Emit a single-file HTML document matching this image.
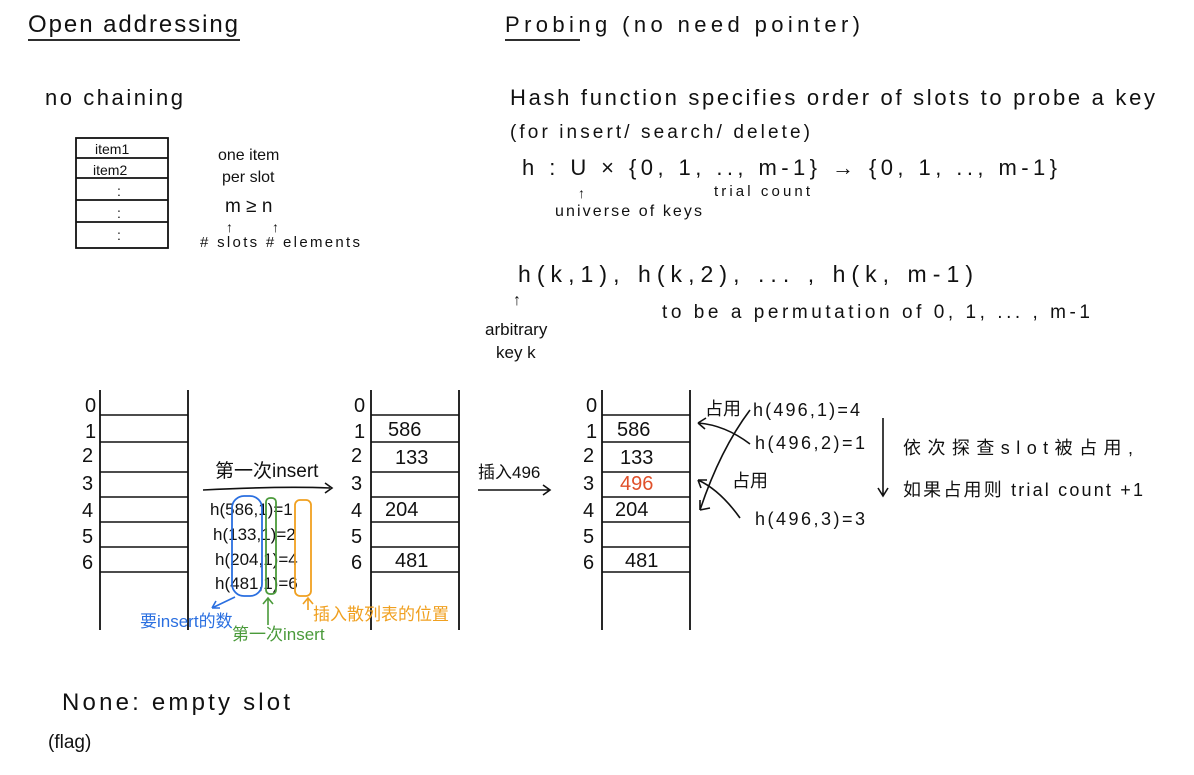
<!DOCTYPE html>
<html><head><meta charset="utf-8"><style>
body{margin:0;background:#fff;width:1194px;height:770px;overflow:hidden}
svg text{font-family:"Liberation Sans","Noto Sans CJK SC",sans-serif;fill:#111}
</style></head><body>
<svg width="1194" height="770" viewBox="0 0 1194 770" xmlns="http://www.w3.org/2000/svg">
<g stroke="#111" stroke-width="1.8" fill="none">
<line x1="28" y1="40" x2="240" y2="40"/>
<line x1="505" y1="40" x2="580" y2="40"/>
<rect x="76" y="138" width="92" height="110"/>
<line x1="76" y1="158" x2="168" y2="158"/><line x1="76" y1="178" x2="168" y2="178"/>
<line x1="76" y1="200" x2="168" y2="200"/><line x1="76" y1="222" x2="168" y2="222"/>
<path d="M100 390V630M188 390V630"/>
<path d="M371 390V630M459 390V630"/>
<path d="M602 390V630M690 390V630"/>
</g>
<g stroke="#111" stroke-width="1.6">
<line x1="100" y1="415" x2="188" y2="415"/><line x1="100" y1="442" x2="188" y2="442"/><line x1="100" y1="472" x2="188" y2="472"/><line x1="100" y1="497" x2="188" y2="497"/><line x1="100" y1="522" x2="188" y2="522"/><line x1="100" y1="547" x2="188" y2="547"/><line x1="100" y1="572" x2="188" y2="572"/>
<line x1="371" y1="415" x2="459" y2="415"/><line x1="371" y1="442" x2="459" y2="442"/><line x1="371" y1="472" x2="459" y2="472"/><line x1="371" y1="497" x2="459" y2="497"/><line x1="371" y1="522" x2="459" y2="522"/><line x1="371" y1="547" x2="459" y2="547"/><line x1="371" y1="572" x2="459" y2="572"/>
<line x1="602" y1="415" x2="690" y2="415"/><line x1="602" y1="442" x2="690" y2="442"/><line x1="602" y1="472" x2="690" y2="472"/><line x1="602" y1="497" x2="690" y2="497"/><line x1="602" y1="522" x2="690" y2="522"/><line x1="602" y1="547" x2="690" y2="547"/><line x1="602" y1="572" x2="690" y2="572"/>
</g>
<g font-size="20">
<text x="85" y="412">0</text><text x="85" y="438">1</text><text x="82" y="462">2</text><text x="82" y="490">3</text><text x="82" y="517">4</text><text x="82" y="543">5</text><text x="82" y="569">6</text>
<text x="354" y="412">0</text><text x="354" y="438">1</text><text x="351" y="462">2</text><text x="351" y="490">3</text><text x="351" y="517">4</text><text x="351" y="543">5</text><text x="351" y="569">6</text>
<text x="586" y="412">0</text><text x="586" y="438">1</text><text x="583" y="462">2</text><text x="583" y="490">3</text><text x="583" y="517">4</text><text x="583" y="543">5</text><text x="583" y="569">6</text>
<text x="388" y="436">586</text><text x="395" y="464">133</text><text x="385" y="516">204</text><text x="395" y="567">481</text>
<text x="617" y="436">586</text><text x="620" y="464">133</text><text x="620" y="490" style="fill:#e0502a">496</text><text x="615" y="516">204</text><text x="625" y="567">481</text>
</g>
<text x="28" y="32" font-size="24" textLength="210">Open addressing</text>
<text x="505" y="32" font-size="22" textLength="355">Probing  (no need pointer)</text>
<text x="45" y="105" font-size="22" textLength="138">no chaining</text>
<g font-size="14"><text x="95" y="154">item1</text><text x="93" y="175">item2</text><text x="117" y="196">:</text><text x="117" y="218">:</text><text x="117" y="240">:</text></g>
<text x="218" y="160" font-size="16">one item</text>
<text x="222" y="182" font-size="16">per slot</text>
<text x="225" y="212" font-size="19">m ≥ n</text>
<text x="226" y="232" font-size="14">↑</text><text x="272" y="232" font-size="14">↑</text>
<text x="200" y="247" font-size="15" textLength="160"># slots  # elements</text>
<text x="510" y="105" font-size="22" textLength="645">Hash function specifies order of slots to probe a key</text>
<text x="510" y="138" font-size="19" textLength="300">(for insert/ search/ delete)</text>
<text x="522" y="175" font-size="22" textLength="535">h : U × {0, 1, .., m-1} → {0, 1, .., m-1}</text>
<text x="578" y="198" font-size="14">↑</text>
<text x="555" y="216" font-size="16" textLength="147">universe of keys</text>
<text x="714" y="196" font-size="15" textLength="96">trial count</text>
<text x="518" y="282" font-size="23" textLength="455">h(k,1), h(k,2), ... , h(k, m-1)</text>
<text x="513" y="305" font-size="16">↑</text>
<text x="485" y="335" font-size="17">arbitrary</text>
<text x="496" y="358" font-size="17">key k</text>
<text x="662" y="318" font-size="19" textLength="428">to be a permutation of 0, 1, ... , m-1</text>
<text x="215" y="477" font-size="19">第一次insert</text>
<path d="M203 490Q280 486 330 488" stroke="#111" stroke-width="1.6" fill="none"/><path d="M325 483l7 5-7 5" stroke="#111" stroke-width="1.6" fill="none"/>
<g font-size="17"><text x="210" y="515">h(586,1)=1</text><text x="213" y="540">h(133,1)=2</text><text x="215" y="565">h(204,1)=4</text><text x="215" y="589">h(481,1)=6</text></g>
<rect x="232" y="496" width="30" height="100" rx="12" stroke="#2a6fe0" stroke-width="1.8" fill="none"/>
<rect x="266" y="498" width="10" height="96" rx="4" stroke="#4a9a3a" stroke-width="1.8" fill="none"/>
<rect x="295" y="500" width="16" height="96" rx="5" stroke="#f0a020" stroke-width="1.8" fill="none"/>
<path d="M235 597L212 608M212 608l8 0M212 608l4-7" stroke="#2a6fe0" stroke-width="1.6" fill="none"/>
<path d="M268 625V598M263 604l5-6 5 6" stroke="#4a9a3a" stroke-width="1.6" fill="none"/>
<path d="M308 610V598M303 604l5-6 5 6" stroke="#f0a020" stroke-width="1.6" fill="none"/>
<text x="140" y="627" font-size="17" style="fill:#2a6fe0">要insert的数</text>
<text x="232" y="640" font-size="17" style="fill:#4a9a3a">第一次insert</text>
<text x="313" y="620" font-size="17" style="fill:#f0a020">插入散列表的位置</text>
<text x="478" y="478" font-size="17">插入496</text>
<path d="M478 490L550 490M543 485l7 5-7 5" stroke="#111" stroke-width="1.6" fill="none"/>
<g font-size="18"><text x="705" y="415">占用</text><text x="753" y="416" textLength="107">h(496,1)=4</text><text x="755" y="449" textLength="110">h(496,2)=1</text><text x="732" y="487">占用</text><text x="755" y="525" textLength="110">h(496,3)=3</text></g>
<g stroke="#111" stroke-width="1.6" fill="none">
<path d="M750 410Q720 450 700 510M700 510l10-2M700 510l0-10"/>
<path d="M750 444Q725 425 698 423M698 423l8-5M698 423l7 6"/>
<path d="M740 518Q720 490 698 480M698 480l9 0M698 480l3 8"/>
<path d="M883 418V495M878 488l5 8 5-8"/>
</g>
<text x="903" y="454" font-size="18" textLength="230">依次探查slot被占用,</text>
<text x="903" y="496" font-size="18" textLength="240">如果占用则 trial count +1</text>
<text x="62" y="710" font-size="24" textLength="228">None: empty slot</text>
<text x="48" y="748" font-size="19">(flag)</text>
</svg>
</body></html>
